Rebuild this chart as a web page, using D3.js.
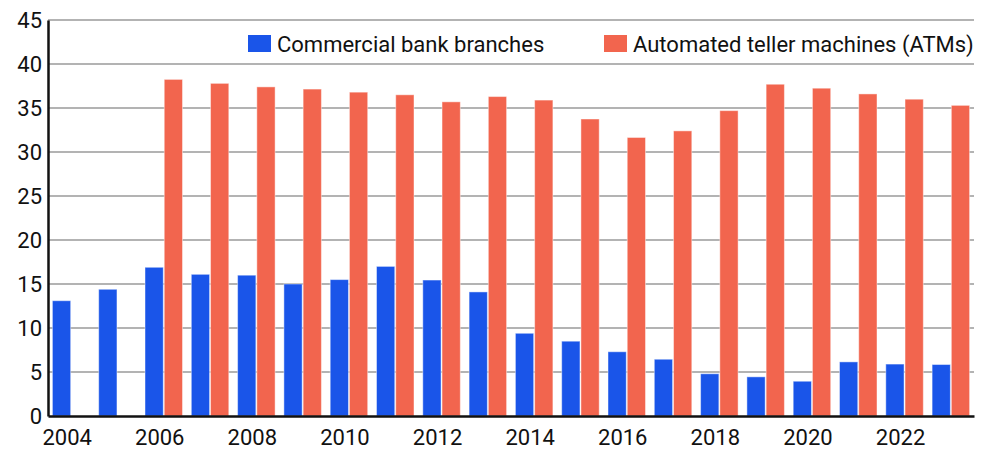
<!DOCTYPE html>
<html><head><meta charset="utf-8">
<script src="https://cdn.jsdelivr.net/npm/d3@7"></script>
<style>body{margin:0;background:#fff}svg{display:block}text{font-family:Roboto,"Noto Sans",sans-serif;fill:#111}</style>
</head><body><svg id="c" width="981" height="457"></svg>
<script>
const years = [2004,2005,2006,2007,2008,2009,2010,2011,2012,2013,2014,2015,2016,2017,2018,2019,2020,2021,2022,2023];
const branches = [13.1,14.4,16.9,16.1,16.0,15.0,15.5,17.0,15.45,14.1,9.4,8.5,7.3,6.45,4.8,4.45,3.95,6.15,5.9,5.85];
const atms = [null,null,38.25,37.8,37.4,37.15,36.8,36.5,35.7,36.3,35.9,33.75,31.65,32.4,34.7,37.7,37.25,36.6,36.0,35.3];
const yTicks = [0,5,10,15,20,25,30,35,40,45];
const xTickYears = [2004,2006,2008,2010,2012,2014,2016,2018,2020,2022];
const seriesNames = ["Commercial bank branches","Automated teller machines (ATMs)"];
const colors = ["#1a55e9","#f2654e"];

const svg = d3.select("#c");
const m = {l:48, r:7, t:20, b:41};
const W = 981, H = 457;
const x = d3.scaleBand().domain(years).range([m.l, W-m.r]).paddingInner(0.19).paddingOuter(0.095);
const xs = d3.scaleBand().domain([0,1]).range([0, x.bandwidth()]).paddingInner(0.05);
const y = d3.scaleLinear().domain([0,45]).range([H-m.b, m.t]);

// grid
svg.append("g").selectAll("line").data(yTicks.filter(d=>d>0)).join("line")
  .attr("x1", m.l).attr("x2", W-m.r).attr("y1", d=>y(d)).attr("y2", d=>y(d))
  .attr("stroke","#9a9a9a").attr("stroke-width",1.5);

// bars
const series = [branches, atms];
series.forEach((s,i)=>{
  svg.append("g").selectAll("rect").data(years.map((yr,j)=>({yr, v:s[j]})).filter(d=>d.v!=null)).join("rect")
    .attr("x", d=>x(d.yr)+xs(i)).attr("width", xs.bandwidth())
    .attr("y", d=>y(d.v)).attr("height", d=>y(0)-y(d.v))
    .attr("fill", colors[i]).attr("stroke","rgba(255,255,255,0.45)").attr("stroke-width",1);
});

// axes
const ya = svg.append("g").attr("transform",`translate(${m.l},0)`)
  .call(d3.axisLeft(y).tickValues(yTicks).tickSize(0).tickPadding(6));
ya.select(".domain").attr("stroke","#111").attr("stroke-width",2.5);
ya.selectAll("text").style("font-size","22px").attr("fill","#111");

const xa = svg.append("g").attr("transform",`translate(0,${y(0)})`)
  .call(d3.axisBottom(x).tickValues(xTickYears).tickSize(0).tickPadding(13).tickSizeOuter(0));
xa.select(".domain").attr("stroke","#111").attr("stroke-width",2.5);
xa.selectAll("text").style("font-size","22px").attr("fill","#111").attr("dx",-4);

// legend
const leg = [{x:248, tx:277},{x:604, tx:633}];
leg.forEach((l,i)=>{
  svg.append("rect").attr("x",l.x).attr("y",35).attr("width",23).attr("height",17).attr("fill",colors[i]);
  svg.append("text").attr("x",l.tx).attr("y",52).style("font-size","22px").text(seriesNames[i]);
});
</script></body></html>
